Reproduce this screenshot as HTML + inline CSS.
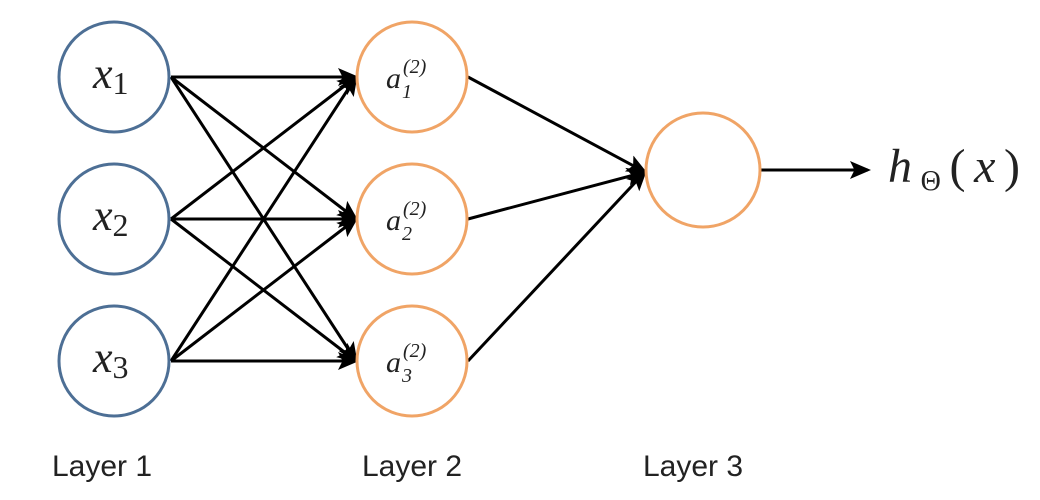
<!DOCTYPE html>
<html><head><style>
html,body{margin:0;padding:0;background:#fff;}
svg{display:block;}
text{font-family:"Liberation Serif",serif;font-style:italic;fill:#222;}
.lab{font-family:"Liberation Sans",sans-serif;font-style:normal;font-size:30px;fill:#222;}
</style></head><body>
<svg width="1040" height="500" viewBox="0 0 1040 500" xmlns="http://www.w3.org/2000/svg">
<defs><marker id="a" markerWidth="7" markerHeight="7" refX="6" refY="3.5" orient="auto" markerUnits="strokeWidth"><path d="M0,0.5 L7,3.5 L0,6.5 L1.5,3.5 z" fill="#000"/></marker></defs>
<g stroke="#000" stroke-width="3" marker-end="url(#a)" fill="none">
<line x1="171" y1="77" x2="356" y2="77"/>
<line x1="171" y1="77" x2="356" y2="219"/>
<line x1="171" y1="77" x2="356" y2="361"/>
<line x1="171" y1="219" x2="356" y2="77"/>
<line x1="171" y1="219" x2="356" y2="219"/>
<line x1="171" y1="219" x2="356" y2="361"/>
<line x1="171" y1="361" x2="356" y2="77"/>
<line x1="171" y1="361" x2="356" y2="219"/>
<line x1="171" y1="361" x2="356" y2="361"/>
<line x1="468" y1="77" x2="645" y2="172"/>
<line x1="468" y1="219" x2="645" y2="172"/>
<line x1="468" y1="361" x2="645" y2="172"/>
<line x1="761" y1="170" x2="868" y2="170"/>
</g>
<g fill="#fff" stroke="#4d6f95" stroke-width="3">
<circle cx="114" cy="77" r="55"/><circle cx="114" cy="219" r="55"/><circle cx="114" cy="361" r="55"/>
</g>
<g fill="#fff" stroke="#f0a466" stroke-width="3">
<circle cx="412" cy="77" r="55"/><circle cx="412" cy="219" r="55"/><circle cx="412" cy="361" r="55"/>
<circle cx="703" cy="170" r="57"/>
</g>
<text x="93" y="88" font-size="44">x<tspan font-style="normal" font-size="32" dy="6">1</tspan></text>
<text x="93" y="230" font-size="44">x<tspan font-style="normal" font-size="32" dy="6">2</tspan></text>
<text x="93" y="372" font-size="44">x<tspan font-style="normal" font-size="32" dy="6">3</tspan></text>
<g font-size="30">
<text x="386" y="88">a</text><text x="403" y="73" font-size="20" font-style="normal">(2)</text><text x="402" y="98" font-size="20" font-style="normal">1</text>
<text x="386" y="230">a</text><text x="403" y="215" font-size="20" font-style="normal">(2)</text><text x="402" y="240" font-size="20" font-style="normal">2</text>
<text x="386" y="372">a</text><text x="403" y="357" font-size="20" font-style="normal">(2)</text><text x="402" y="382" font-size="20" font-style="normal">3</text>
</g>
<text x="888" y="182" font-size="48" textLength="132" lengthAdjust="spacing">h<tspan font-style="normal" font-size="28" dy="8">Θ</tspan><tspan font-style="normal" dy="-8">(</tspan>x<tspan font-style="normal">)</tspan></text>
<text class="lab" x="52" y="476">Layer 1</text>
<text class="lab" x="362" y="476">Layer 2</text>
<text class="lab" x="643" y="476">Layer 3</text>
</svg>
</body></html>
